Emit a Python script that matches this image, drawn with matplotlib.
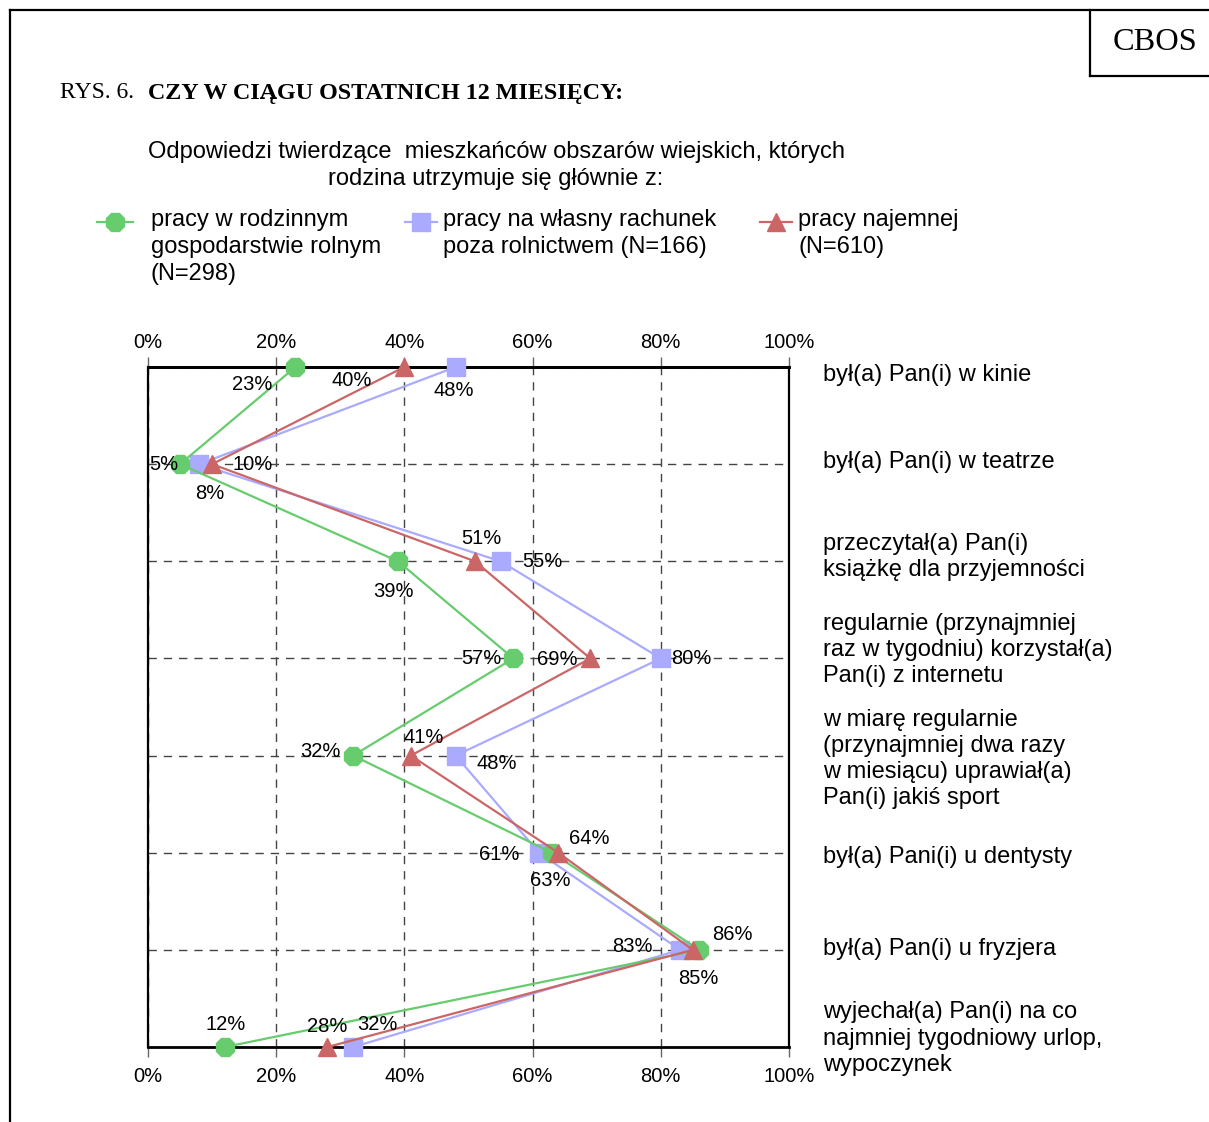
import matplotlib
matplotlib.use("Agg")
import matplotlib.pyplot as plt
from matplotlib.lines import Line2D
import numpy as np

plt.rcParams['font.family'] = ['Liberation Sans', 'DejaVu Sans']

# ---------------- data ----------------
categories = [
    "był(a) Pan(i) w kinie",
    "był(a) Pan(i) w teatrze",
    "przeczytał(a) Pan(i)\nksiążkę dla przyjemności",
    "regularnie (przynajmniej\nraz w tygodniu) korzystał(a)\nPan(i) z internetu",
    "w miarę regularnie\n(przynajmniej dwa razy\nw miesiącu) uprawiał(a)\nPan(i) jakiś sport",
    "był(a) Pani(i) u dentysty",
    "był(a) Pan(i) u fryzjera",
    "wyjechał(a) Pan(i) na co\nnajmniej tygodniowy urlop,\nwypoczynek",
]
rolnicy = [23, 5, 39, 57, 32, 63, 86, 12]
wlasny = [48, 8, 55, 80, 48, 61, 83, 32]
najemni = [40, 10, 51, 69, 41, 64, 85, 28]

series_labels = [
    "pracy w rodzinnym\ngospodarstwie rolnym\n(N=298)",
    "pracy na własny rachunek\npoza rolnictwem (N=166)",
    "pracy najemnej\n(N=610)",
]
xticks = [0, 20, 40, 60, 80, 100]
xtick_labels = ["0%", "20%", "40%", "60%", "80%", "100%"]

title_prefix = "RYS. 6."
title_main = "CZY W CIĄGU OSTATNICH 12 MIESIĘCY:"
subtitle = ("Odpowiedzi twierdzące  mieszkańców obszarów wiejskich, których\n"
            "rodzina utrzymuje się głównie z:")

# ---------------- style ----------------
GREEN = '#66CC6E'
BLUE = '#AAAAFF'
RED = '#CC6666'

# label offsets in pixels (dx right, dy down) per point
off_green = [(-43, 17), (-16, 0), (-5, 30), (-32, 0), (-33, -4), (-2, 28), (33, -15), (1, -23)]
off_blue = [(-2, 24), (10, 29), (42, 0), (31, 0), (41, 8), (-40, 2), (-48, -3), (24, -22)]
off_red = [(-53, 13), (41, 0), (6, -23), (-33, 1), (13, -18), (31, -14), (5, 29), (0, -21)]
# vertical nudges (px, down) of category texts
cat_dy = [7.5, -2.5, -4.5, -8.5, 3.5, 4.5, -0.5, -8.5]

W, H = 1209, 1122
fig = plt.figure(figsize=(W / 100, H / 100), dpi=100)

def fx(px):
    return px / W

def fy(py):
    return 1 - py / H

ax = fig.add_axes([fx(148), fy(1047), fx(789) - fx(148), fy(367) - fy(1047)])

ypos = np.arange(len(categories))

specs = [
    (wlasny, BLUE, 's', 12.5, off_blue, 3),
    (rolnicy, GREEN, '8', 14, off_green, 4),
    (najemni, RED, '^', 13.5, off_red, 5),
]
for vals, col, mk, ms, offs, z in specs:
    ax.plot(vals, ypos, color=col, lw=1.6, marker=mk, ms=ms,
            markeredgecolor=col, markerfacecolor=col, clip_on=False, zorder=z)
    for v, y, (dx, dy) in zip(vals, ypos, offs):
        ax.annotate(f"{v}%", (v, y), xytext=(dx, -dy), textcoords='offset pixels',
                    ha='center', va='center', fontsize=14.5, color='black', zorder=6,
                    annotation_clip=False)

ax.set_xlim(0, 100)
ax.set_ylim(len(categories) - 1, 0)
ax.set_xticks(xticks)
ax.set_xticklabels(xtick_labels)
ax.set_yticks(ypos)
ax.set_yticklabels([])
ax.tick_params(axis='y', length=0)
ax.tick_params(axis='x', top=False, labeltop=False, bottom=True, labelbottom=True,
               direction='out', length=7, width=1, color='#666666', labelsize=14.5, pad=7.5)

sec = ax.secondary_xaxis('top')
sec.set_xticks(xticks)
sec.set_xticklabels(xtick_labels)
sec.tick_params(axis='x', direction='out', length=7, width=1, color='#666666',
                labelsize=14.5, pad=3.5)
sec.spines['top'].set_linewidth(2.0)

ax.grid(True, color='#444444', linestyle=(0, (6, 5)), linewidth=1)
for sname, sp in ax.spines.items():
    sp.set_color('black')
    sp.set_linewidth(2.0 if sname in ('top', 'bottom') else 1.6)

# category labels on right
for y, c, dy in zip(ypos, categories, cat_dy):
    ax.annotate(c, (1.0, y), xycoords=ax.get_yaxis_transform(),
                xytext=(823 - 789, -dy), textcoords='offset pixels',
                ha='left', va='center', fontsize=17, linespacing=1.25,
                annotation_clip=False)

# ---------------- frame, titles ----------------
fig.add_artist(Line2D([fx(10), fx(W)], [fy(10), fy(10)], color='black', lw=1.6))
fig.add_artist(Line2D([fx(10), fx(10)], [fy(10), fy(H)], color='black', lw=1.6))
fig.add_artist(Line2D([fx(1090), fx(1090)], [fy(10), fy(76)], color='black', lw=1.6))
fig.add_artist(Line2D([fx(1090), fx(W)], [fy(76), fy(76)], color='black', lw=1.6))
fig.text(fx(1155), fy(42), "CBOS", family='Liberation Serif', fontsize=23.3,
         ha='center', va='center')

fig.text(fx(60), fy(93), title_prefix, family='Liberation Serif', fontsize=17,
         ha='left', va='center')
fig.text(fx(148), fy(93), title_main, family='Liberation Serif', fontsize=17.3,
         fontweight='bold', ha='left', va='center')

fig.text(fx(496), fy(165.5), subtitle, fontsize=17, ha='center', va='center',
         linespacing=1.30)

# legend drawn manually
leg = [
    (GREEN, '8', 14, 97, 133, 151, series_labels[0]),
    (BLUE, 's', 12.5, 405, 437, 443, series_labels[1]),
    (RED, '^', 13.5, 760, 792, 798, series_labels[2]),
]
for col, mk, ms, x0, x1, xt, lab in leg:
    fig.add_artist(Line2D([fx(x0), fx(x1)], [fy(222), fy(222)], color=col, lw=1.6))
    fig.add_artist(Line2D([fx((x0 + x1) / 2)], [fy(222)], color=col, marker=mk, ms=ms,
                          markeredgecolor=col, markerfacecolor=col, lw=0))
    fig.text(fx(xt), fy(209), lab, fontsize=17, ha='left', va='top', linespacing=1.30)

fig.savefig("out.png", dpi=100)
